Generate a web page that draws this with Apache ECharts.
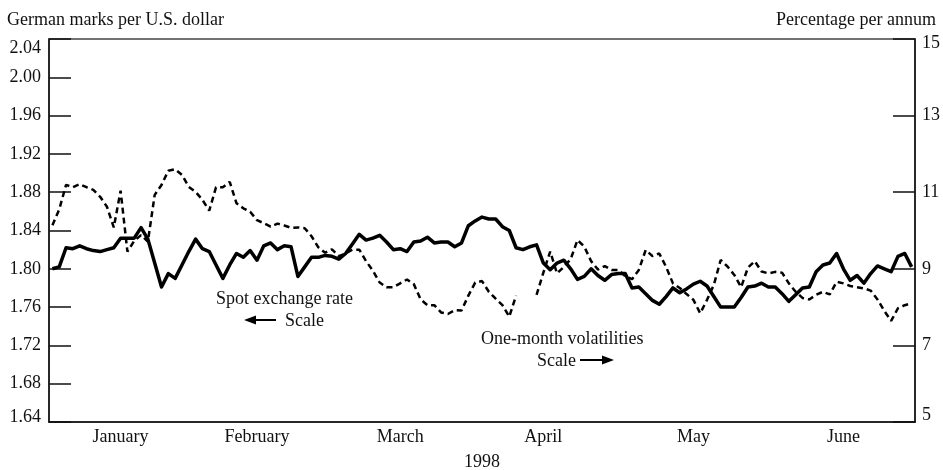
<!DOCTYPE html>
<html>
<head>
    <meta charset="utf-8">
    <title>Mark spot rate and volatility</title>
    <script src="https://cdn.jsdelivr.net/npm/echarts@6/dist/echarts.min.js"></script>
</head>
<body style="margin:0">
<div id="main" style="width: 943px;height:470px;"></div>
<script type="text/javascript">
    var monthNames = ['January', 'February', 'March', 'April', 'May', 'June'];
    // trading days per month
    var monthDays = [22, 20, 22, 20, 21, 22];
    // day index where each month label sits
    var labelDays = [10, 30, 51, 72, 94, 116];

    // German marks per U.S. dollar (left scale)
    var spotRate = [
        1.800, 1.802, 1.822, 1.821, 1.824, 1.821, 1.819, 1.818, 1.820, 1.822, 1.832, 1.832, 1.832, 1.843, 1.831, 1.806, 1.781, 1.795, 1.790, 1.804, 1.818, 1.831,
        1.821, 1.818, 1.804, 1.790, 1.804, 1.816, 1.812, 1.819, 1.809, 1.824, 1.827, 1.820, 1.824, 1.823, 1.792, 1.802, 1.812, 1.812, 1.814,
        1.813, 1.810, 1.816, 1.826, 1.836, 1.830, 1.832, 1.835, 1.828, 1.820, 1.821, 1.818, 1.828, 1.829, 1.833, 1.827, 1.828, 1.828, 1.823, 1.827, 1.845, 1.850,
        1.854, 1.852, 1.852, 1.844, 1.840, 1.822, 1.820, 1.823, 1.825, 1.806, 1.799, 1.806, 1.809, 1.800, 1.789, 1.792, 1.800, 1.793, 1.788, 1.794, 1.795, 1.795,
        1.780, 1.781, 1.774, 1.767, 1.763, 1.771, 1.780, 1.775, 1.779, 1.784, 1.787, 1.782, 1.771, 1.760, 1.760, 1.760, 1.770, 1.781, 1.782, 1.785,
        1.781, 1.781, 1.774, 1.766, 1.773, 1.780, 1.781, 1.797, 1.804, 1.806, 1.816, 1.800, 1.788, 1.793, 1.785, 1.795, 1.803, 1.800, 1.797, 1.813, 1.816, 1.802
    ];

    // one-month volatilities, percent per annum (right scale)
    var volatility = [
        10.14, 10.55, 11.19, 11.13, 11.21, 11.13, 11.06, 10.88, 10.62, 10.08, 11.04, 9.45, 9.73, 9.88, 9.71, 10.93, 11.19, 11.56, 11.60, 11.45, 11.14, 11.01,
        10.80, 10.52, 11.13, 11.13, 11.27, 10.71, 10.58, 10.49, 10.27, 10.19, 10.10, 10.18, 10.13, 10.07, 10.08, 10.06, 9.85, 9.56, 9.42,
        9.51, 9.33, 9.40, 9.50, 9.50, 9.20, 8.95, 8.64, 8.52, 8.52, 8.62, 8.72, 8.60, 8.20, 8.05, 8.05, 7.86, 7.82, 7.92, 7.91, 8.30, 8.64,
        8.68, 8.40, 8.22, 8.05, 7.75, 8.30, null, null, 8.32, 8.90, 9.45, 8.88, 9.05, 9.25, 9.75, 9.58, 9.20, 8.98, 9.07, 8.97, 8.97, 8.81,
        8.73, 8.97, 9.49, 9.33, 9.40, 9.05, 8.62, 8.50, 8.34, 8.19, 7.84, 8.19, 8.58, 9.23, 9.06, 8.84, 8.52, 9.03, 9.20, 8.93,
        8.88, 8.92, 8.90, 8.62, 8.40, 8.24, 8.20, 8.32, 8.40, 8.33, 8.66, 8.62, 8.55, 8.52, 8.49, 8.43, 8.20, 7.90, 7.64, 7.97, 8.05, 8.10
    ];

    var leftTicks = ['1.64', '1.68', '1.72', '1.76', '1.80', '1.84', '1.88', '1.92', '1.96', '2.00', '2.04'];
    var rightTicks = ['5', '7', '9', '11', '13', '15'];

    // build day categories and month boundaries
    var days = [];
    var monthStart = {0: true};
    monthNames.forEach(function (m, i) {
        if (i > 0) monthStart[days.length] = true;
        for (var d = 1; d <= monthDays[i]; d++) days.push(m + ' ' + d);
    });
    var labelAt = {};
    labelDays.forEach(function (d, i) { labelAt[d] = monthNames[i]; });

    var font = 'Liberation Serif';
    var fs = 18;
    var ink = '#111';
    var cssFont = fs + 'px "Liberation Serif"';

    var myChart = echarts.init(document.getElementById('main'));
    var option = {
        animation: false,
        textStyle: {fontFamily: font, color: ink},
        grid: {
            left: 49, right: 28, top: 39, height: 383,
            containLabel: false,
            outerBoundsMode: 'none',
            show: true, borderColor: '#444', borderWidth: 1.5
        },
        xAxis: {
            type: 'category',
            data: days,
            boundaryGap: true,
            name: '1998',
            nameLocation: 'middle',
            nameGap: 31,
            nameTextStyle: {fontFamily: font, fontSize: fs, color: ink},
            axisLine: {lineStyle: {color: ink, width: 1.5}},
            axisTick: {
                inside: true, length: 14,
                lineStyle: {color: ink, width: 1.5},
                interval: function (i) { return !!monthStart[i]; }
            },
            axisLabel: {
                interval: function (i) { return labelAt[i] !== undefined; },
                formatter: function (v, i) { return labelAt[i] || ''; },
                fontFamily: font, fontSize: fs, color: ink, margin: 6
            },
            splitLine: {show: false}
        },
        yAxis: [{
            type: 'value',
            min: 1.64, max: 2.04, interval: 0.04,
            position: 'left',
            axisLine: {show: true, lineStyle: {color: ink, width: 1.5}},
            axisTick: {show: true, inside: true, length: 22, lineStyle: {color: ink, width: 1.5}},
            axisLabel: {
                margin: 8, fontFamily: font, fontSize: fs, color: ink,
                formatter: function (v) {
                    var s = leftTicks[Math.round((v - 1.64) / 0.04)];
                    if (s === '2.04') return '{top|' + s + '}';
                    if (s === '1.64') return '{bot|' + s + '}';
                    return s;
                },
                rich: {
                    top: {fontFamily: font, fontSize: fs, color: ink, padding: [18, 0, 0, 0]},
                    bot: {fontFamily: font, fontSize: fs, color: ink, padding: [0, 0, 10, 0]}
                }
            },
            splitLine: {show: false}
        }, {
            type: 'value',
            min: 5, max: 15, interval: 2,
            position: 'right',
            axisLine: {show: true, lineStyle: {color: ink, width: 1.5}},
            axisTick: {show: true, inside: true, length: 22, lineStyle: {color: ink, width: 1.5}},
            axisLabel: {
                margin: 7, fontFamily: font, fontSize: fs, color: ink,
                formatter: function (v) {
                    var s = rightTicks[Math.round((v - 5) / 2)];
                    if (s === '15') return '{top|' + s + '}';
                    if (s === '5') return '{bot|' + s + '}';
                    return s;
                },
                rich: {
                    top: {fontFamily: font, fontSize: fs, color: ink, padding: [8, 0, 0, 0]},
                    bot: {fontFamily: font, fontSize: fs, color: ink, padding: [0, 0, 14, 0]}
                }
            },
            splitLine: {show: false}
        }],
        series: [{
            name: 'Spot exchange rate',
            type: 'line',
            yAxisIndex: 0,
            data: spotRate,
            symbol: 'none',
            lineStyle: {color: '#000', width: 3.5, join: 'round'}
        }, {
            name: 'One-month volatilities',
            type: 'line',
            yAxisIndex: 1,
            data: volatility,
            symbol: 'none',
            connectNulls: false,
            lineStyle: {color: '#000', width: 2.5, type: [6, 4]}
        }],
        graphic: [
            {type: 'text', left: 7, top: 11,
                style: {text: 'German marks per U.S. dollar', font: cssFont, fill: ink}},
            {type: 'text', right: 7, top: 11,
                style: {text: 'Percentage per annum', font: cssFont, fill: ink}},
            {type: 'text', x: 216, y: 299,
                style: {text: 'Spot exchange rate', font: cssFont, fill: ink, verticalAlign: 'middle'}},
            {type: 'text', x: 285, y: 321,
                style: {text: 'Scale', font: cssFont, fill: ink, verticalAlign: 'middle'}},
            {type: 'line', shape: {x1: 253, y1: 320, x2: 276, y2: 320}, style: {stroke: '#000', lineWidth: 2}},
            {type: 'polygon', shape: {points: [[244, 320], [256, 315.5], [256, 324.5]]}, style: {fill: '#000'}},
            {type: 'text', x: 481, y: 339,
                style: {text: 'One-month volatilities', font: cssFont, fill: ink, verticalAlign: 'middle'}},
            {type: 'text', x: 537, y: 361,
                style: {text: 'Scale', font: cssFont, fill: ink, verticalAlign: 'middle'}},
            {type: 'line', shape: {x1: 580, y1: 360, x2: 604, y2: 360}, style: {stroke: '#000', lineWidth: 2}},
            {type: 'polygon', shape: {points: [[614, 360], [602, 355.5], [602, 364.5]]}, style: {fill: '#000'}}
        ]
    };
    myChart.setOption(option);
</script>
</body>
</html>
